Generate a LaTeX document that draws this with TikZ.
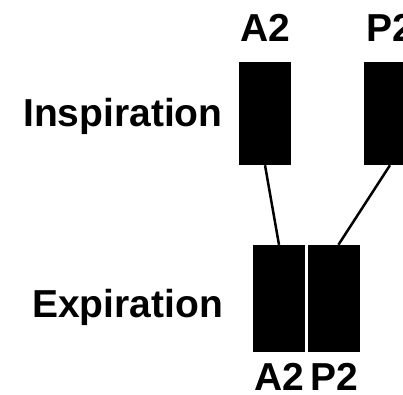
\documentclass[tikz,border=0pt]{standalone}
\usepackage{fontspec}
\setmainfont{Liberation Sans}
\usetikzlibrary{positioning}

\begin{document}
\begin{tikzpicture}[
    x=1pt, y=-1pt,
    node distance=11pt,
    bar/.style={
        fill=black,
        inner sep=0pt,
        minimum width=52pt,
        minimum height=103pt
    },
    lbl/.style={
        inner sep=0pt,
        font=\fontsize{39}{41}\selectfont\bfseries
    },
    link/.style={line width=2.5pt}
]
\useasboundingbox (0,0) rectangle (403,394);
\clip (0,0) rectangle (403,394);

% inspiration row
\node[bar] (ains) at (265,113.5) {};
\node[bar] (pins) at (390,113.5) {};

\node[lbl, above=20pt of ains] (atop) {A2};
\node[lbl, above=20pt of pins] (ptop) {P2};
\node[lbl, anchor=base west] (insp) at (23,126) {Inspiration};

% expiration row
\node[bar, minimum height=107pt] (aexp) at (279,298.5) {};
\node[bar, minimum height=107pt, right=3pt of aexp] (pexp) {};

\node[lbl, below=of aexp] (abot) {A2};
\node[lbl, below=of pexp] (pbot) {P2};
\node[lbl, anchor=base west] (expi) at (32,317) {Expiration};

\draw[link] (ains.south) -- (aexp.north);
\draw[link] (pins.south) -- ([xshift=4pt]pexp.north);

\end{tikzpicture}
\end{document}
